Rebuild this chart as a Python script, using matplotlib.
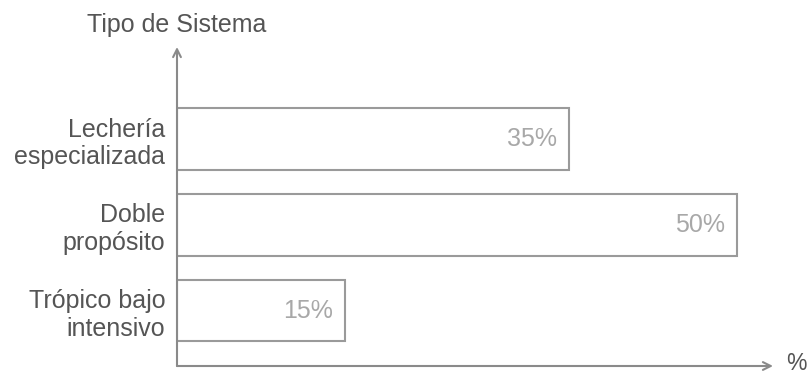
import matplotlib.pyplot as plt

# sistemas de produccion y su participacion
categorias = ["Trópico bajo\nintensivo", "Doble\npropósito", "Lechería\nespecializada"]
porcentajes = [15, 50, 35]

plt.rcParams['font.family'] = ['Liberation Sans', 'DejaVu Sans']

fig = plt.figure(figsize=(8.1, 3.74), dpi=100)
ax = fig.add_axes([177 / 810, 8 / 374, (773 - 177) / 810, (366 - 47) / 374])

pos = list(range(len(categorias)))
ax.barh(pos, porcentajes, height=0.72, left=0, color="white",
        edgecolor="#9a9a9a", linewidth=1.5, zorder=2)

for y, v in zip(pos, porcentajes):
    ax.text(v - 1.1, y, f"{v}%", ha="right", va="center",
            fontsize=18, color="#a8a8a8", zorder=3)

ax.set_xlim(0, (773 - 177) / 11.2)
ax.set_ylim(-0.647, 3.073)
ax.set_yticks(pos)
ax.set_yticklabels(categorias, fontsize=18, color="#555555", linespacing=1.2)
ax.tick_params(axis="y", length=0, pad=8.5)
ax.set_xticks([])
for s in ax.spines.values():
    s.set_visible(False)

# ejes con flecha
arrow = dict(arrowstyle="->", color="#8a8a8a", lw=1.5, mutation_scale=14,
             shrinkA=0, shrinkB=0)
ax.annotate("", xy=(0, 1), xytext=(0, 0), xycoords="axes fraction",
            arrowprops=arrow)
ax.annotate("", xy=(1, 0), xytext=(0, 0), xycoords="axes fraction",
            arrowprops=arrow)

fig.text(177 / 810, 1 - 32 / 374, "Tipo de Sistema", ha="center", va="baseline",
         fontsize=18, color="#555555")
fig.text(786 / 810, 1 - 363 / 374, "%", ha="left", va="center",
         fontsize=16.5, color="#555555")

fig.savefig("out.png", dpi=100)
